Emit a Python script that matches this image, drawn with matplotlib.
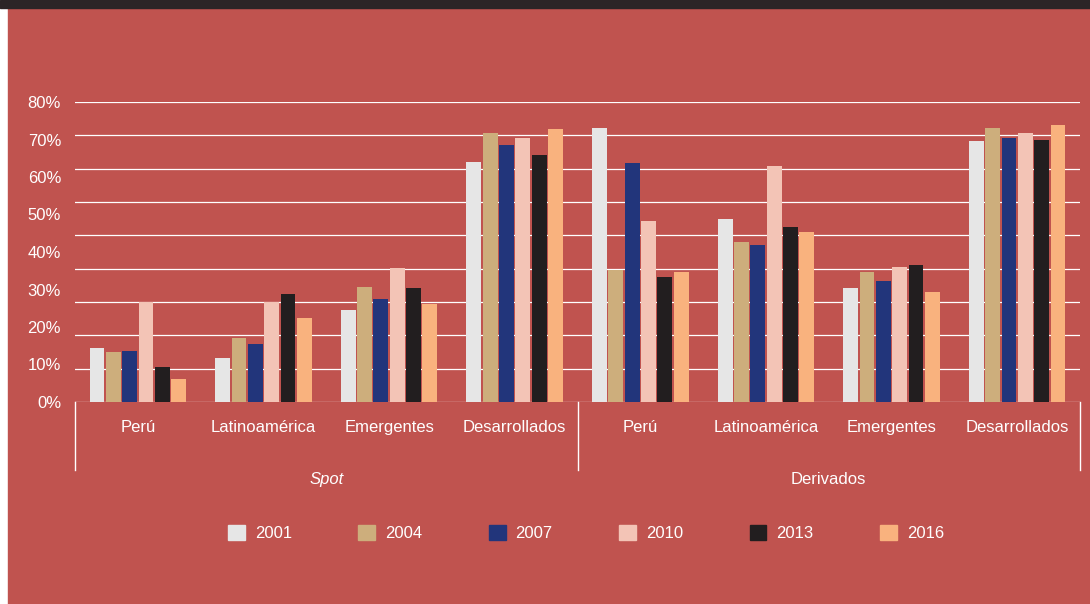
import matplotlib.pyplot as plt
import matplotlib.patches as mpatches
import numpy as np

plt.rcParams['font.family'] = ['Liberation Sans', 'DejaVu Sans']

years = ["2001", "2004", "2007", "2010", "2013", "2016"]
colors = ["#E6E6E6", "#CDAE7C", "#22357B", "#F3C4B6", "#221E1F", "#F9B27E"]
categories = ["Perú", "Latinoamérica", "Emergentes", "Desarrollados",
              "Perú", "Latinoamérica", "Emergentes", "Desarrollados"]
groups = ["Spot", "Derivados"]

s2001 = [14.4, 11.7, 24.5, 64.0, 73.0, 48.8, 30.4, 69.6]
s2004 = [13.3, 17.0, 30.7, 71.7, 35.2, 42.7, 34.7, 73.0]
s2007 = [13.6, 15.5, 27.5, 68.5, 63.7, 41.9, 32.3, 70.4]
s2010 = [26.7, 26.7, 35.7, 70.4, 48.3, 62.9, 36.0, 71.7]
s2013 = [9.3, 28.8, 30.4, 65.9, 33.3, 46.7, 36.5, 69.9]
s2016 = [6.1, 22.4, 26.1, 72.8, 34.7, 45.3, 29.3, 73.9]
series = [s2001, s2004, s2007, s2010, s2013, s2016]

W, H = 1090, 604
bg = "#C0534F"
fig = plt.figure(figsize=(W / 100, H / 100), dpi=100, facecolor="white")
fig.patches.append(mpatches.Rectangle((8 / W, 0), 1, 1 - 8 / H, transform=fig.transFigure,
                                      color=bg, zorder=-10))
fig.patches.append(mpatches.Rectangle((0, 1 - 8 / H), 1, 8 / H, transform=fig.transFigure,
                                      color="#2B2526", zorder=-9))

ax = fig.add_axes([75 / W, (H - 402) / H, 1005 / W, 300 / H])
ax.set_facecolor(bg)
ax.set_xlim(-0.5, 7.5)
ax.set_ylim(0, 80)

for g in np.linspace(0, 80, 10):
    ax.axhline(g, color="white", lw=0.9, zorder=0)

x = np.arange(len(categories))
step = 0.13
bw = 0.118
for i, (vals, c, y) in enumerate(zip(series, colors, years)):
    ax.bar(x + (i - 2.5) * step, vals, bw, color=c, label=y, zorder=2)

ax.set_yticks(range(0, 81, 10))
ax.set_yticklabels([f"{v}%" for v in range(0, 81, 10)], color="white", fontsize=12)
ax.tick_params(axis="y", length=0, pad=10)
ax.set_xticks([])
for s in ax.spines.values():
    s.set_visible(False)

tr = ax.get_xaxis_transform()
for xi, cat in zip(x, categories):
    ax.text(xi, -18 / 300, cat, transform=tr, ha="center", va="top", color="white", fontsize=12)
ax.text(1.5, -70 / 300, groups[0], transform=tr, ha="center", va="top", color="white",
        fontsize=12, style="italic")
ax.text(5.5, -70 / 300, groups[1], transform=tr, ha="center", va="top", color="white", fontsize=12)
for xs in [-0.5, 3.5, 7.5]:
    ax.plot([xs, xs], [0, -68 / 300], transform=tr, color="white", lw=1, clip_on=False)

handles = [mpatches.Patch(color=c) for c in colors]
fig.legend(handles, years, loc="center", bbox_to_anchor=(586 / W, 1 - 533 / H), ncol=6,
           frameon=False, fontsize=12, labelcolor="white", handlelength=1.0, handleheight=1.0,
           columnspacing=4.0, handletextpad=0.6)

fig.savefig("out.png", dpi=100, facecolor=fig.get_facecolor())
